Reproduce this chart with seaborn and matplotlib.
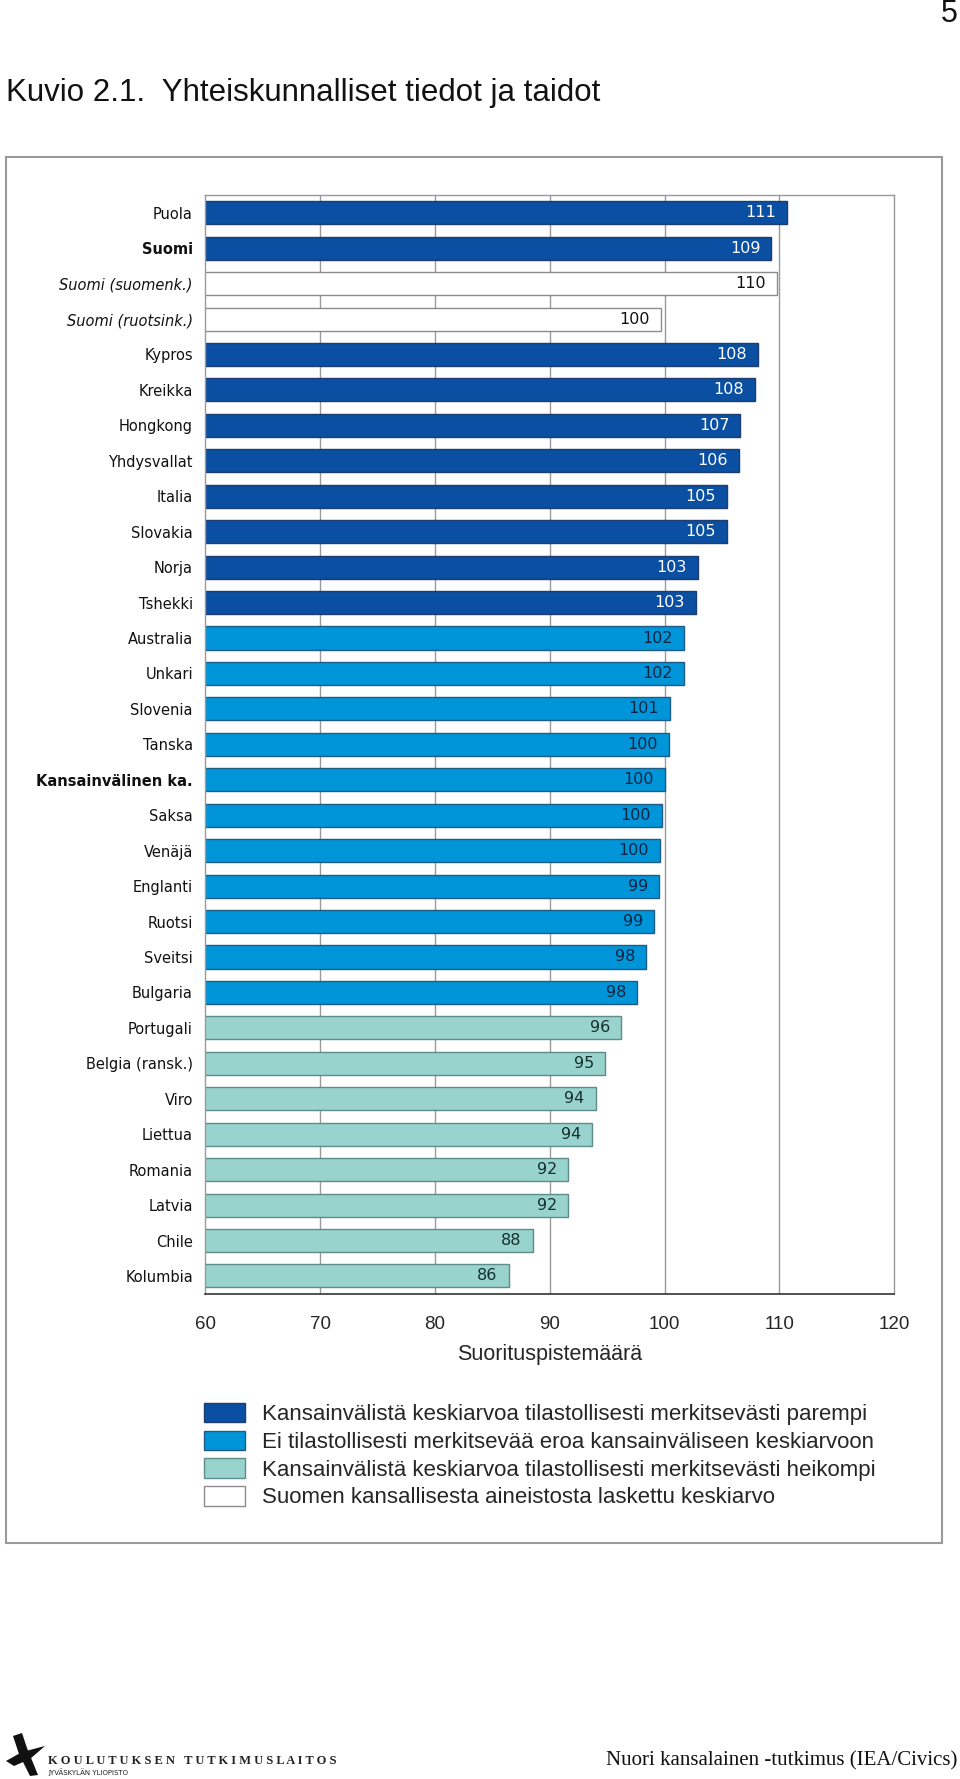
import matplotlib
matplotlib.use("Agg")
import matplotlib.pyplot as plt
from matplotlib.patches import Patch, Rectangle, Polygon
import pandas as pd
import seaborn as sns

countries = [
    "Puola", "Suomi", "Suomi (suomenk.)", "Suomi (ruotsink.)", "Kypros",
    "Kreikka", "Hongkong", "Yhdysvallat", "Italia", "Slovakia", "Norja",
    "Tshekki", "Australia", "Unkari", "Slovenia", "Tanska",
    "Kansainvälinen ka.", "Saksa", "Venäjä", "Englanti", "Ruotsi",
    "Sveitsi", "Bulgaria", "Portugali", "Belgia (ransk.)", "Viro",
    "Liettua", "Romania", "Latvia", "Chile", "Kolumbia",
]
scores = [
    110.7, 109.3, 109.8, 99.7, 108.1, 107.9, 106.6, 106.5, 105.4, 105.4,
    102.9, 102.7, 101.7, 101.7, 100.5, 100.4, 100.0, 99.8, 99.6, 99.5,
    99.1, 98.4, 97.6, 96.2, 94.8, 94.0, 93.7, 91.6, 91.6, 88.5, 86.4,
]
labels = [
    "111", "109", "110", "100", "108", "108", "107", "106", "105", "105",
    "103", "103", "102", "102", "101", "100", "100", "100", "100", "99",
    "99", "98", "98", "96", "95", "94", "94", "92", "92", "88", "86",
]
groups = (["parempi"] * 2 + ["kansallinen"] * 2 + ["parempi"] * 8
          + ["ei eroa"] * 11 + ["heikompi"] * 8)

group_names = ["parempi", "ei eroa", "heikompi", "kansallinen"]
legend_labels = [
    "Kansainvälistä keskiarvoa tilastollisesti merkitsevästi parempi",
    "Ei tilastollisesti merkitsevää eroa kansainväliseen keskiarvoon",
    "Kansainvälistä keskiarvoa tilastollisesti merkitsevästi heikompi",
    "Suomen kansallisesta aineistosta laskettu keskiarvo",
]
fill = {"parempi": "#0b4fa2", "ei eroa": "#0095d8",
        "heikompi": "#98d3cd", "kansallinen": "#ffffff"}
edge = {"parempi": "#1d3d6e", "ei eroa": "#1f5c85",
        "heikompi": "#5e8c89", "kansallinen": "#8c8c8c"}
text_col = {"parempi": "#ffffff", "ei eroa": "#0e2442",
            "heikompi": "#15302e", "kansallinen": "#111111"}

df = pd.DataFrame({"country": countries, "score": scores, "group": groups})

sns.set_style("white")
plt.rcParams["font.family"] = ["DejaVu Sans"]

fig = plt.figure(figsize=(9.6, 17.79), dpi=100)

# page frame
fig.patches.append(Rectangle((6 / 960, 1 - 1543 / 1779), 936 / 960, 1386 / 1779,
                             transform=fig.transFigure, fill=False,
                             edgecolor="#9a9a9a", linewidth=1.5))

ax = fig.add_axes([0.214, 0.2728, 0.7175, 0.6176])

sns.barplot(
    data=df, x="score", y="country", hue="country", hue_order=countries,
    order=countries, palette=[fill[g] for g in groups], legend=False,
    width=0.65, saturation=1, ax=ax,
)

for i, cont in enumerate(ax.containers):
    g = groups[i]
    for bar in cont:
        bar.set_edgecolor(edge[g])
        bar.set_linewidth(1.0)
    ax.annotate(labels[i], (scores[i], i), xytext=(-8, 0),
                textcoords="offset points", ha="right", va="center",
                fontsize=11.5, color=text_col[g])

ax.set_xlim(60, 120)
ax.set_ylim(30.5, -0.5)
ax.set_xticks(range(60, 121, 10))
ax.set_xticklabels([str(v) for v in range(60, 121, 10)],
                   fontfamily="Liberation Sans", fontsize=13.5)
ax.set_xlabel("Suorituspistemäärä", fontfamily="Liberation Sans",
              fontsize=15.5, labelpad=8)
ax.set_ylabel("")

ax.set_yticks(range(len(countries)))
ax.set_yticks([i - 0.5 for i in range(len(countries) + 1)], minor=True)
ax.set_yticklabels(countries, fontsize=10.5, color="#111111")
for lab in ax.get_yticklabels():
    if lab.get_text() in ("Suomi", "Kansainvälinen ka."):
        lab.set_fontweight("bold")
    if lab.get_text().startswith("Suomi ("):
        lab.set_fontstyle("italic")

ax.tick_params(axis="y", which="major", length=0, pad=9)
ax.tick_params(axis="y", which="minor", length=5, color="#555555", width=0.8)
ax.tick_params(axis="x", which="major", length=6, color="#333333",
               direction="out", pad=10)

ax.grid(False)
for v in range(70, 120, 10):
    ax.axvline(v, color="#9a9a9a", linewidth=1.0, zorder=0)
for side in ("top", "right", "left"):
    ax.spines[side].set_visible(True)
    ax.spines[side].set_color("#9a9a9a")
    ax.spines[side].set_linewidth(1.0)
ax.spines["bottom"].set_color("#333333")
ax.spines["bottom"].set_linewidth(1.2)

handles = [Patch(facecolor=fill[g], edgecolor=edge[g], linewidth=1.0)
           for g in group_names]
fig.legend(handles, legend_labels, loc="upper left",
           bbox_to_anchor=(204 / 960, 1 - 1403 / 1779), frameon=False,
           prop={"family": "Liberation Sans", "size": 16},
           handlelength=1.85, handleheight=0.97, handletextpad=0.75,
           labelspacing=0.24, borderpad=0, borderaxespad=0)

fig.text(6 / 960, 1 - 93 / 1779, "Kuvio 2.1.  Yhteiskunnalliset tiedot ja taidot",
         fontfamily="Liberation Sans", fontsize=22.5, ha="left", va="center",
         color="#111111")
fig.text(958 / 960, 1 - 14 / 1779, "5", fontfamily="Liberation Sans",
         fontsize=22, ha="right", va="center", color="#111111")

# footer
fig.patches.append(Polygon([(13 / 960, 1 - 1736 / 1779), (22 / 960, 1 - 1733 / 1779),
                            (27 / 960, 1 - 1748 / 1779), (38 / 960, 1 - 1775 / 1779),
                            (30 / 960, 1 - 1776 / 1779), (19 / 960, 1 - 1754 / 1779)],
                           closed=True, transform=fig.transFigure,
                           facecolor="#111111", edgecolor="none"))
fig.patches.append(Polygon([(6 / 960, 1 - 1761 / 1779), (22 / 960, 1 - 1752 / 1779),
                            (45 / 960, 1 - 1746 / 1779), (30 / 960, 1 - 1759 / 1779),
                            (14 / 960, 1 - 1766 / 1779)],
                           closed=True, transform=fig.transFigure,
                           facecolor="#111111", edgecolor="none"))
fig.text(48 / 960, 1 - 1761 / 1779,
         "K O U L U T U K S E N   T U T K I M U S L A I T O S",
         fontfamily="Liberation Serif", fontsize=9, fontweight="bold",
         ha="left", va="center", color="#222222")
fig.text(48 / 960, 1 - 1772 / 1779, "JYVÄSKYLÄN YLIOPISTO",
         fontfamily="DejaVu Sans", fontsize=5, ha="left", va="center",
         color="#222222")
fig.text(957 / 960, 1 - 1761 / 1779, "Nuori kansalainen -tutkimus (IEA/Civics)",
         fontfamily="Liberation Serif", fontsize=15, ha="right", va="center",
         color="#111111")

fig.savefig("out.png", dpi=100)
